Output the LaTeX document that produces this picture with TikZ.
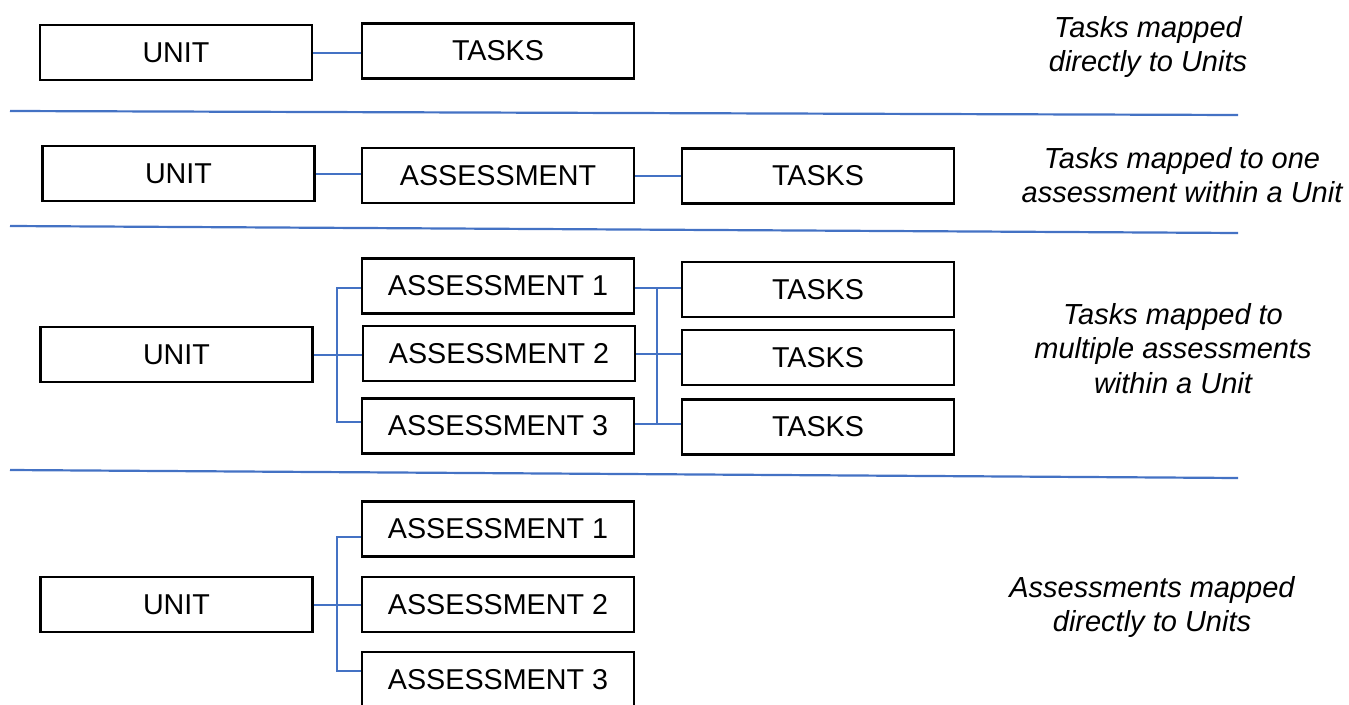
\documentclass[tikz,border=0pt]{standalone}
\usepackage{fontspec}
\setmainfont{Liberation Sans}
\usetikzlibrary{positioning,calc}
\definecolor{linkblue}{RGB}{68,114,196}

\begin{document}
\begin{tikzpicture}[
    x=1pt, y=-1pt,
    box/.style={rectangle, draw, line width=2.2pt, minimum width=272pt, minimum height=55pt,
        inner sep=0pt, font=\fontsize{28.7}{34}\selectfont},
    note/.style={align=center, font=\fontsize{29}{34.5}\selectfont\itshape},
    link/.style={draw=linkblue, line width=2pt},
    sep/.style={draw=linkblue, line width=2.2pt},
  ]
  \useasboundingbox (0,0) rectangle (1349,704);

  % tasks mapped to units
  \node[box] (u1) at (176,52.5) {UNIT};
  \node[box] (t1) at (498,51) {TASKS};
  \draw[link] (u1.east) -- (u1.east -| t1.west);
  \node[note] (n1) at (1148,47) {Tasks mapped\\directly to Units};

  \draw[sep] (10,111) -- (1238,115);

  % tasks mapped to one assessment
  \node[box] (u2) at (178.5,173.5) {UNIT};
  \node[box] (a2) at (498,175.5) {ASSESSMENT};
  \node[box] (t2) at (818,176) {TASKS};
  \draw[link] (u2.east) -- (u2.east -| a2.west);
  \draw[link] (a2.east) -- (a2.east -| t2.west);
  \node[note] (n2) at (1182,175) {Tasks mapped to one\\assessment within a Unit};

  \draw[sep] (10,226) -- (1238,233);

  % tasks mapped to several assessments
  \node[box] (u3) at (176.5,354.5) {UNIT};
  \node[box] (a31) at (498,286) {ASSESSMENT 1};
  \node[box] (a32) at (499,353.5) {ASSESSMENT 2};
  \node[box] (a33) at (498,426) {ASSESSMENT 3};
  \node[box] (t31) at (818,289.5) {TASKS};
  \node[box] (t32) at (818,357.5) {TASKS};
  \node[box] (t33) at (818,427) {TASKS};
  \coordinate (j3) at ($(u3.east)+(23,0)$);
  \coordinate (k3) at ($(a32.east)+(21,0)$);
  \draw[link] (u3.east) -- (u3.east -| a32.west);
  \draw[link] ([yshift=-2pt]a31.west) -| (j3) |- ([yshift=4pt]a33.west);
  \draw[link] ([yshift=-2pt]a31.east) -- ([yshift=-2pt]a31.east -| t31.west);
  \draw[link] (a32.east) -- (a32.east -| t32.west);
  \draw[link] ([yshift=2pt]a33.east) -- ([yshift=2pt]a33.east -| t33.west);
  \draw[link] ([yshift=-2pt]a31.east -| k3) -- ([yshift=2pt]a33.east -| k3);
  \node[note] (n3) at (1173,348.5) {Tasks mapped to\\multiple assessments\\within a Unit};

  \draw[sep] (10,470) -- (1238,478);

  % assessments mapped to units
  \node[box] (u4) at (176.5,604.5) {UNIT};
  \node[box] (a41) at (498,529) {ASSESSMENT 1};
  \node[box] (a42) at (498,604.5) {ASSESSMENT 2};
  \node[box] (a43) at (498,679.5) {ASSESSMENT 3};
  \coordinate (j4) at ($(u4.east)+(23,0)$);
  \draw[link] (u4.east) -- (u4.east -| a42.west);
  \draw[link] ([yshift=-8pt]a41.west) -| (j4) |- ([yshift=8.5pt]a43.west);
  \node[note] (n4) at (1152,607) {Assessments mapped\\directly to Units};
\end{tikzpicture}
\end{document}
